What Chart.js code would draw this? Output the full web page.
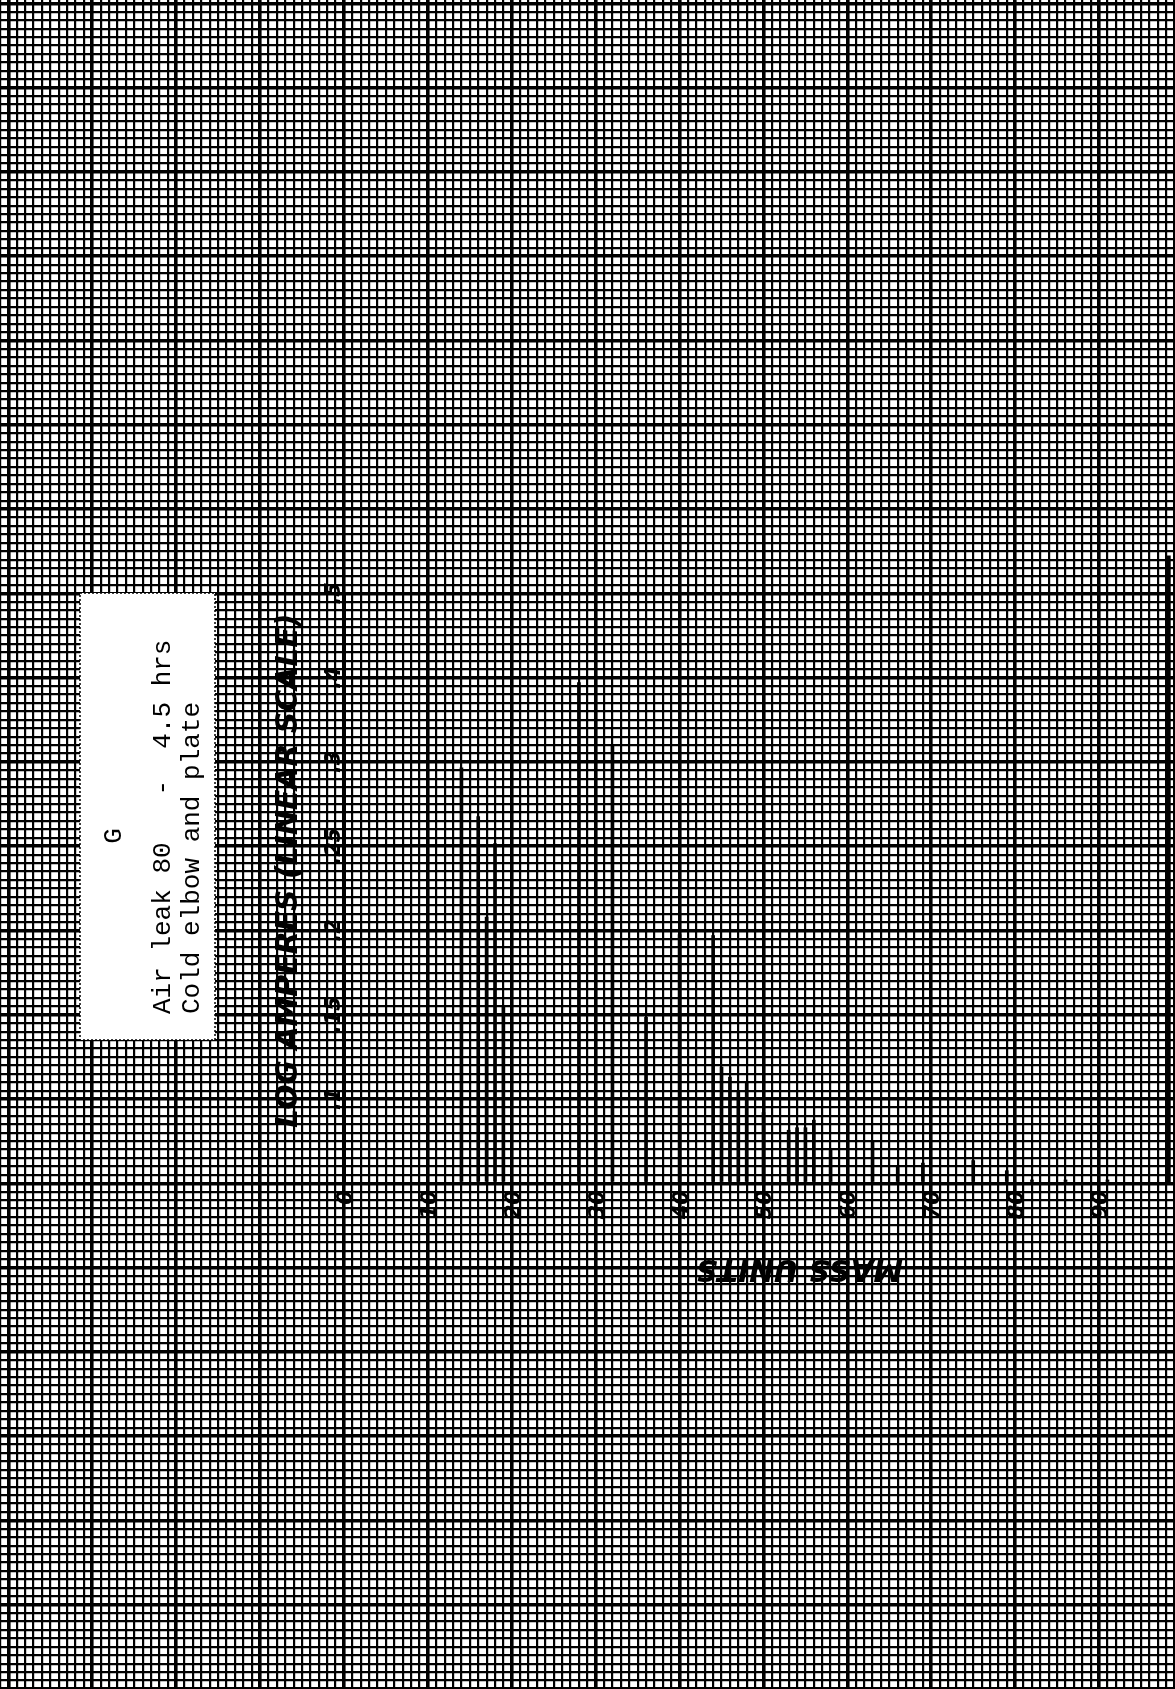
<!DOCTYPE html>
<html>
<head>
<meta charset="utf-8">
<script src="https://cdn.jsdelivr.net/npm/chart.js@4.4.1/dist/chart.umd.min.js"></script>
<style>
  html, body { margin: 0; padding: 0; background: #fff; }
  canvas { display: block; }
</style>
</head>
<body>
<canvas id="chart" width="1175" height="1689"></canvas>
<script>
// mass spectrum, air leak 80 - 4.5 hrs
// heights are in small grid divisions (10 divisions = one labelled step)
const masses  = [14, 16, 17, 18, 19, 28, 32, 36, 40, 44, 45, 46, 47, 48, 50, 53, 54, 55, 56, 58, 63, 66, 69, 75, 79, 82, 86, 91];
const heights = [49.3, 43.5, 31.6, 40.3, 21, 59.4, 52.1, 19.7, 29.5, 29.4, 13.8, 12.6, 11, 11.9, 8.4, 6.3, 6.6, 6.6, 7.5, 4, 5.1, 1.9, 2.4, 2.7, 1.5, 0.4, 0.4, 0.4];

const massTicks  = [0, 10, 20, 30, 40, 50, 60, 70, 80, 90, 100];
const ampTicks   = [10, 20, 30, 40, 50, 60, 70];
const ampLabels  = ['.1', '.15', '.2', '.25', '.3', '.4', '.5'];

const titleLines = ['G', 'Air leak 80   -  4.5 hrs', 'Cold elbow and plate'];
const yTitle = 'LOG AMPERES (LINEAR SCALE)';
const xTitle = 'MASS UNITS';

function vText(ctx, txt, x, y, rot, align, base){
  ctx.save();
  ctx.translate(x, y);
  ctx.rotate(rot);
  ctx.textAlign = align;
  ctx.textBaseline = base;
  ctx.fillText(txt, 0, 0);
  ctx.restore();
}

function fitFont(ctx, txt, len, style, family){
  ctx.font = style + ' 20px ' + family;
  const w = ctx.measureText(txt).width;
  return style + ' ' + (20 * len / w).toFixed(1) + 'px ' + family;
}

const paperText = {
  id: 'paperText',
  afterDraw(chart){
    const ctx = chart.ctx;
    const xs = chart.scales.x, ys = chart.scales.y;
    const x0 = xs.getPixelForValue(0);
    const yb = ys.getPixelForValue(0);
    ctx.save();
    ctx.fillStyle = '#000';
    ctx.strokeStyle = '#000';

    // amperes axis line and the right hand rule
    ctx.lineWidth = 4;
    ctx.beginPath();
    ctx.moveTo(x0, yb);
    ctx.lineTo(x0, ys.getPixelForValue(70));
    const xr = xs.getPixelForValue(98.3);
    ctx.moveTo(xr, yb);
    ctx.lineTo(xr, ys.getPixelForValue(74.5));
    ctx.stroke();

    // tick labels on the amperes axis
    ctx.font = 'bold italic 21px "DejaVu Sans"';
    ampTicks.forEach((v, i) => {
      vText(ctx, ampLabels[i], x0 - 4, ys.getPixelForValue(v), -Math.PI / 2, 'center', 'alphabetic');
    });

    // tick labels on the mass axis
    massTicks.forEach(m => {
      vText(ctx, String(m), xs.getPixelForValue(m) + 8, ys.getPixelForValue(-0.8), -Math.PI / 2, 'right', 'alphabetic');
    });

    // axis titles
    ctx.font = fitFont(ctx, yTitle, 514, 'bold italic', '"DejaVu Sans"');
    vText(ctx, yTitle, xs.getPixelForValue(-5.6), ys.getPixelForValue(37.1), -Math.PI / 2, 'center', 'alphabetic');
    ctx.font = fitFont(ctx, xTitle, 207, 'bold italic', '"DejaVu Sans"');
    vText(ctx, xTitle, xs.getPixelForValue(54.3), ys.getPixelForValue(-10), Math.PI, 'center', 'middle');

    // typed label box
    ctx.fillStyle = '#fff';
    ctx.fillRect(80, 593, 135, 447);
    ctx.setLineDash([2, 2]);
    ctx.lineWidth = 1.5;
    ctx.strokeRect(80, 593, 135, 447);
    ctx.setLineDash([]);
    ctx.fillStyle = '#000';
    ctx.font = '26px "Liberation Mono"';
    vText(ctx, titleLines[0], 114, 836, -Math.PI / 2, 'center', 'middle');
    vText(ctx, titleLines[1], 163, 1014, -Math.PI / 2, 'left', 'middle');
    vText(ctx, titleLines[2], 192, 1014, -Math.PI / 2, 'left', 'middle');
    ctx.restore();
  }
};

const gridW = c => (Math.round(c.tick.value) % 10 === 0 ? 3.6 : 2.2);

new Chart(document.getElementById('chart'), {
  type: 'bar',
  data: {
    datasets: [{
      data: masses.map((m, i) => ({ x: m, y: heights[i] })),
      backgroundColor: '#000',
      borderWidth: 0,
      barThickness: 3
    }]
  },
  options: {
    responsive: false,
    animation: false,
    devicePixelRatio: 1,
    layout: { padding: 0 },
    plugins: { legend: { display: false }, tooltip: { enabled: false } },
    scales: {
      x: {
        type: 'linear', min: -41, max: 99.05, offset: false,
        grid: { color: '#000', lineWidth: gridW, drawTicks: false, offset: false },
        ticks: { display: false, stepSize: 1, maxTicksLimit: 1000, includeBounds: false },
        border: { display: false }
      },
      y: {
        type: 'linear', min: -60, max: 140.4,
        grid: { color: '#000', lineWidth: gridW, drawTicks: false },
        ticks: { display: false, stepSize: 1, maxTicksLimit: 1000, includeBounds: false },
        border: { display: false }
      }
    }
  },
  plugins: [paperText]
});
</script>
</body>
</html>
